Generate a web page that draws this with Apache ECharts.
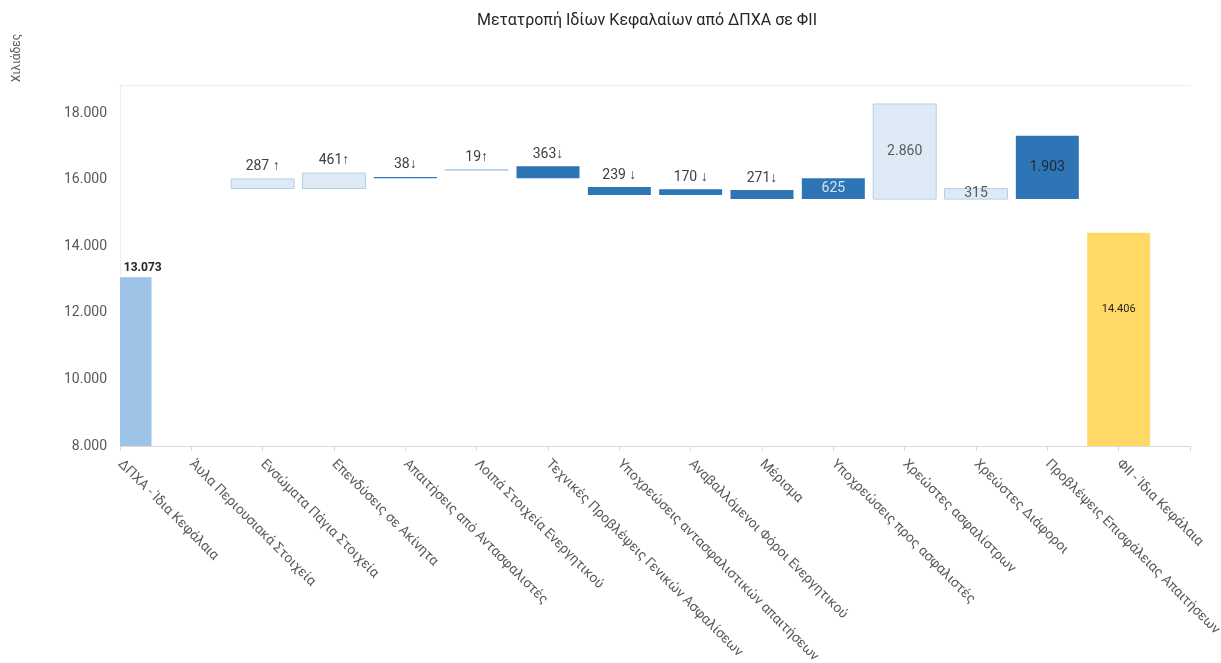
<!DOCTYPE html>
<html>
<head>
<meta charset="utf-8">
<script src="https://cdn.jsdelivr.net/npm/echarts@6/dist/echarts.min.js"></script>
<style>
  html, body { margin: 0; padding: 0; background: #ffffff; }
  #chart { width: 1221px; height: 663px; }
</style>
</head>
<body>
<div id="chart"></div>
<script>
// Bridge of equity from IFRS (ΔΠΧΑ) to Solvency II (ΦΙΙ), in thousands
const categories = [
  'ΔΠΧΑ - Ίδια Κεφάλαια',
  'Άυλα Περιουσιακά Στοιχεία',
  'Ενσώματα Πάγια Στοιχεία',
  'Επενδύσεις σε Ακίνητα',
  'Απαιτήσεις από Αντασφαλιστές',
  'Λοιπά Στοιχεία Ενεργητικού',
  'Τεχνικές Προβλέψεις Γενικών Ασφαλίσεων',
  'Υποχρεώσεις αντασφαλιστικών απαιτήσεων',
  'Αναβαλλόμενοι Φόροι Ενεργητικού',
  'Μέρισμα',
  'Υποχρεώσεις προς ασφαλιστές',
  'Χρεώστες ασφαλίστρων',
  'Χρεώστες Διάφοροι',
  'Προβλέψεις Επισφάλειας Απαιτήσεων',
  'ΦΙΙ - Ίδια Κεφάλαια'
];

// size of each bar (totals and adjustments)
const values = [13073, 0, 287, 461, 38, 19, 363, 239, 170, 271, 625, 2860, 315, 1903, 14406];

// level where each floating bar starts
const bases = [0, 0, 15740, 15740, 16050, 16290, 16045, 15545, 15545, 15420, 15420, 15420, 15420, 15420, 0];

// kind of each bar
const direction = ['total', 'none', 'up', 'up', 'down', 'up', 'down', 'down', 'down', 'down', 'down', 'up', 'up', 'down', 'total'];

// arrow suffix printed after the value
const arrows = ['', '', ' ↑', '↑', '↓', '↑', '↓', ' ↓', ' ↓', '↓', '', '', '', '', ''];

const chartTitle = 'Μετατροπή Ιδίων Κεφαλαίων από ΔΠΧΑ σε ΦΙΙ';
const unitName = 'Χιλιάδες';

const FONT = 'Roboto, "Noto Sans", sans-serif';
const BAR_W = 63;
const last = values.length - 1;

function fmt(v) {
  return String(v).replace(/\B(?=(\d{3})+(?!\d))/g, '.');
}

// rows: [category index, low end, high end]
const rows = values.map((v, i) => [i, bases[i], bases[i] + v]);

function barStyle(i) {
  if (i === 0) return { fill: '#9dc3e6' };
  if (i === last) return { fill: '#ffd966' };
  if (direction[i] === 'up') return { fill: '#deebf7', stroke: '#b4cfea', lineWidth: 1 };
  return { fill: '#2e75b6' };
}

function labelSetup(i) {
  const style = { fontFamily: FONT, fontSize: 14, fill: '#404040', fontWeight: 'normal' };
  let cfg = { position: 'top', distance: 5 };
  if (i === 0) {
    Object.assign(style, { fontSize: 12, fontWeight: 'bold', fill: '#262626' });
    cfg = { position: 'top', distance: 3, offset: [7, 0] };
  } else if (i === last) {
    Object.assign(style, { fontSize: 11, fill: '#262626' });
    cfg = { position: 'insideTop', distance: 71 };
  } else if (i === 10) {
    Object.assign(style, { fill: '#d3e2f2' });
    cfg = { position: 'inside' };
  } else if (i === 11 || i === 12) {
    Object.assign(style, { fill: '#595959' });
    cfg = { position: 'inside' };
  } else if (i === 13) {
    Object.assign(style, { fill: '#1f2733' });
    cfg = { position: 'inside' };
  }
  return { style, cfg };
}

function renderBar(params, api) {
  const i = api.value(0);
  if (direction[i] === 'none') return null;
  const lo = api.coord([i, api.value(1)]);
  const hi = api.coord([i, api.value(2)]);
  const cs = params.coordSys;
  const shape = echarts.graphic.clipRectByRect(
    { x: lo[0] - BAR_W / 2, y: hi[1], width: BAR_W, height: lo[1] - hi[1] },
    { x: cs.x, y: cs.y, width: cs.width, height: cs.height }
  );
  if (!shape) return null;
  const lab = labelSetup(i);
  lab.style.text = fmt(values[i]) + arrows[i];
  return {
    type: 'rect',
    shape: shape,
    style: barStyle(i),
    textContent: { style: lab.style },
    textConfig: lab.cfg
  };
}

const chart = echarts.init(document.getElementById('chart'), null, { renderer: 'canvas' });

chart.setOption({
  backgroundColor: '#ffffff',
  animation: false,
  title: {
    text: chartTitle,
    left: 472,
    top: 8,
    textStyle: { fontFamily: FONT, fontSize: 16, fontWeight: 'normal', color: '#262626' }
  },
  graphic: [{
    type: 'text',
    x: 17,
    y: 58,
    rotation: Math.PI / 2,
    style: {
      text: unitName,
      fill: '#595959',
      font: '12px ' + FONT,
      align: 'center',
      verticalAlign: 'middle'
    }
  }],
  grid: { left: 120, right: 31, top: 85, bottom: 217, containLabel: false, outerBoundsMode: 'none' },
  xAxis: [{
    type: 'category',
    data: categories.concat(['']),
    boundaryGap: false,
    axisLine: { show: true, lineStyle: { color: '#d9d9d9', width: 1 } },
    axisTick: { show: true, length: 5, lineStyle: { color: '#d9d9d9' } },
    axisLabel: {
      interval: 0,
      rotate: -45,
      margin: 16,
      fontFamily: FONT,
      fontSize: 13.7,
      color: '#595959'
    },
    splitLine: { show: false }
  }, {
    type: 'value',
    position: 'top',
    axisLine: { show: true, onZero: false, lineStyle: { color: '#eeeeee', width: 1 } },
    axisTick: { show: false },
    axisLabel: { show: false },
    splitLine: { show: false }
  }],
  yAxis: {
    type: 'value',
    min: 8000,
    max: 18850,
    interval: 2000,
    axisLine: { show: true, lineStyle: { color: '#eeeeee', width: 1 } },
    axisTick: { show: false },
    splitLine: { show: false },
    axisLabel: {
      showMaxLabel: false,
      margin: 13,
      fontFamily: FONT,
      fontSize: 14,
      color: '#595959',
      formatter: v => fmt(v)
    }
  },
  series: [{
    name: 'bridge',
    type: 'custom',
    xAxisIndex: 0,
    renderItem: renderBar,
    encode: { x: 0, y: [1, 2] },
    data: rows
  }]
});
</script>
</body>
</html>
